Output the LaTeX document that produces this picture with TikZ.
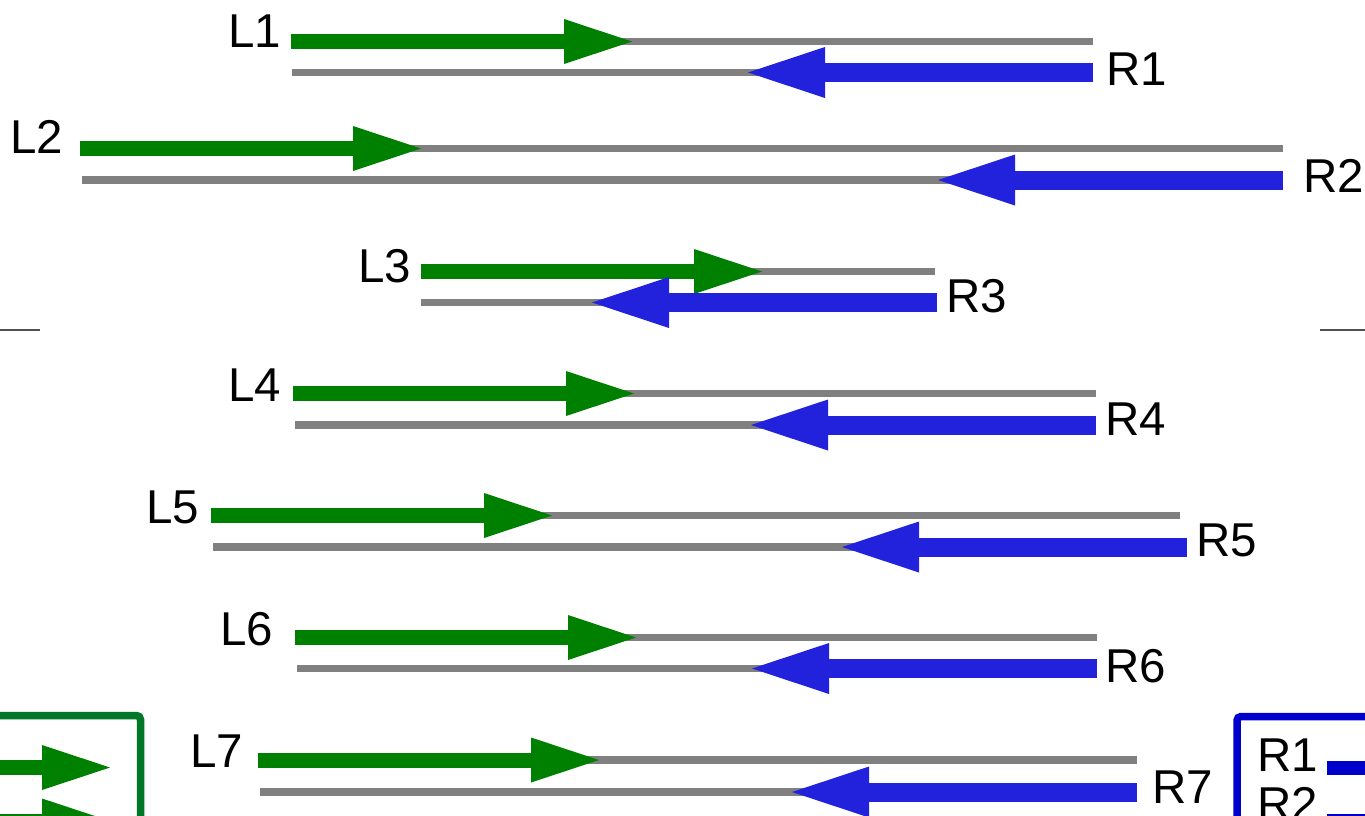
\documentclass[tikz,border=0pt]{standalone}
\usepackage{fontspec}
\setmainfont{Liberation Sans}
\usetikzlibrary{arrows.meta}
\definecolor{grn}{RGB}{0,128,0}
\definecolor{blu}{RGB}{34,34,221}
\definecolor{gry}{RGB}{128,128,128}
\definecolor{boxgrn}{RGB}{0,120,40}
\definecolor{boxblu}{RGB}{0,0,204}
\definecolor{sep}{RGB}{80,80,80}
\begin{document}
\begin{tikzpicture}[x=1pt,y=-1pt,
  grayline/.style={draw=gry,line width=7.5pt},
  garrow/.style={draw=grn,line width=15pt,-{Triangle[length=68pt,width=45pt,line width=0pt]}},
  barrow/.style={draw=blu,line width=19pt,-{Triangle[length=77pt,width=51pt,line width=0pt]}},
  lbl/.style={inner sep=0pt,font=\fontsize{47.5}{57}\selectfont,anchor=base west},
  legbox/.style={line width=7.5pt,rounded corners=4pt},
  sepline/.style={draw=sep,line width=2pt}
]
\useasboundingbox (0,0) rectangle (1365,815);
\clip (0,0) rectangle (1365,815);
\fill[white] (0,0) rectangle (1365,815);

\foreach \i/\gs/\yt/\te/\bs/\yb/\be/\lx/\lb/\rx/\rb in {
  1/291/41.5/1093/292/72.5/1093/228/47/1106/85,
  2/80/148.5/1283/82/180/1283/10/153/1303/192,
  3/421/271.5/935/421/302.5/937/358/282/946/312,
  4/293/393.5/1096/295/425/1096/228/401/1105/435,
  5/211/515.5/1180/213/547/1187/146/523/1196/556,
  6/295/637.5/1097/297/668.5/1097/220/645/1105/682,
  7/258/760/1137/260/792/1137/190/767/1152/803}
{
  \coordinate (gs\i) at (\gs,\yt);
  \coordinate (gt\i) at (\gs+341,\yt);
  \coordinate (te\i) at (\te,\yt);
  \coordinate (bs\i) at (\bs,\yb);
  \coordinate (be\i) at (\be,\yb);
  \coordinate (bt\i) at (\be-345,\yb);
  \draw[grayline] (gs\i) -- (te\i);
  \draw[grayline] (bs\i) -- (be\i);
  \draw[garrow] (gs\i) -- (gt\i);
  \draw[barrow] (be\i) -- (bt\i);
  \node[lbl] (L\i) at (\lx,\lb) {L\i};
  \node[lbl] (R\i) at (\rx,\rb) {R\i};
}

% separators
\coordinate (sl1) at (0,329.5);
\coordinate (sl2) at (40,329.5);
\coordinate (sr1) at (1320,329.5);
\coordinate (sr2) at (1365,329.5);
\draw[sepline] (sl1) -- (sl2);
\draw[sepline] (sr1) -- (sr2);

% green legend (partially visible)
\coordinate (gb1) at (-60,715.5);
\coordinate (gb2) at (140.5,1000);
\draw[legbox,draw=boxgrn] (gb1) rectangle (gb2);
\coordinate (ga1) at (-60,767.5);
\coordinate (ga2) at (110,767.5);
\coordinate (ga3) at (-60,821);
\coordinate (ga4) at (110,821);
\draw[garrow] (ga1) -- (ga2);
\draw[garrow] (ga3) -- (ga4);

% blue legend (partially visible)
\coordinate (bb1) at (1237,716.5);
\coordinate (bb2) at (1600,1000);
\draw[legbox,draw=boxblu] (bb1) rectangle (bb2);
\node[lbl] (lr1) at (1257,771) {R1};
\node[lbl] (lr2) at (1257,820.5) {R2};
\coordinate (bl1) at (1327,768);
\coordinate (bl2) at (1400,768);
\coordinate (bl3) at (1327,821);
\coordinate (bl4) at (1400,821);
\draw[draw=boxblu,line width=14pt] (bl1) -- (bl2);
\draw[draw=boxblu,line width=14pt] (bl3) -- (bl4);
\end{tikzpicture}
\end{document}
